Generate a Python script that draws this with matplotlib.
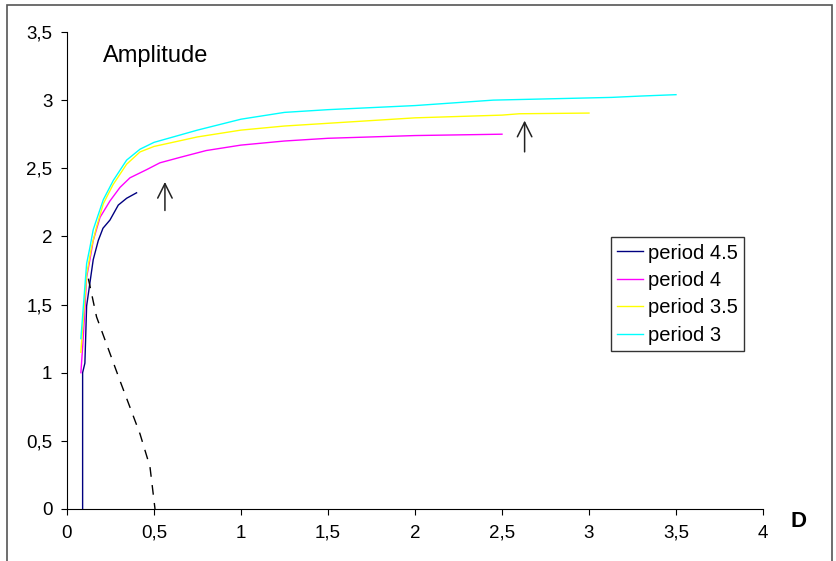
import matplotlib
matplotlib.use("Agg")
import matplotlib.pyplot as plt
from matplotlib.patches import Rectangle

plt.rcParams['font.family'] = ['Liberation Sans', 'DejaVu Sans']

# period 4.5
d_45 = [0.09, 0.09, 0.103, 0.113, 0.132, 0.151, 0.18, 0.207, 0.247, 0.295, 0.343, 0.40]
a_45 = [0.0, 1.0, 1.07, 1.49, 1.66, 1.83, 1.97, 2.06, 2.12, 2.23, 2.28, 2.32]

# period 4
d_4 = [0.08, 0.094, 0.113, 0.132, 0.151, 0.19, 0.247, 0.305, 0.362, 0.458, 0.534, 0.65,
       0.8, 1.0, 1.25, 1.5, 2.0, 2.5]
a_4 = [1.0, 1.26, 1.70, 1.83, 1.97, 2.14, 2.26, 2.36, 2.43, 2.49, 2.54, 2.58,
       2.63, 2.67, 2.70, 2.72, 2.74, 2.75]

# period 3.5
d_35 = [0.08, 0.113, 0.141, 0.17, 0.209, 0.265, 0.343, 0.42, 0.5, 0.75, 1.0, 1.25,
        1.5, 2.0, 2.5, 2.6, 3.0]
a_35 = [1.15, 1.72, 1.92, 2.07, 2.24, 2.38, 2.53, 2.62, 2.66, 2.73, 2.78, 2.81,
        2.83, 2.87, 2.89, 2.90, 2.905]

# period 3
d_3 = [0.08, 0.113, 0.132, 0.151, 0.209, 0.266, 0.343, 0.42, 0.5, 0.75, 1.0, 1.25,
       1.5, 2.0, 2.45, 3.13, 3.3, 3.5]
a_3 = [1.25, 1.80, 1.92, 2.05, 2.27, 2.41, 2.56, 2.64, 2.69, 2.78, 2.86, 2.91,
       2.93, 2.96, 3.0, 3.02, 3.03, 3.04]

# dashed boundary
d_dash = [0.123, 0.17, 0.305, 0.42, 0.477, 0.506]
a_dash = [1.69, 1.41, 0.94, 0.55, 0.31, 0.0]

# arrows (x, y_from, y_to)
arrows = [(0.563, 2.17, 2.42), (2.63, 2.6, 2.87)]

x_ticks = [0, 0.5, 1, 1.5, 2, 2.5, 3, 3.5, 4]
y_ticks = [0, 0.5, 1, 1.5, 2, 2.5, 3, 3.5]

fig = plt.figure(figsize=(8.37, 5.61), dpi=100)
ax = fig.add_axes([0.080, 0.0927, 0.8316, 0.8503])

ax.plot(d_45, a_45, color='#000080', lw=1, label='period 4.5')
ax.plot(d_4, a_4, color='#FF00FF', lw=1, label='period 4')
ax.plot(d_35, a_35, color='#FFFF00', lw=1, label='period 3.5')
ax.plot(d_3, a_3, color='#00FFFF', lw=1, label='period 3')
ax.plot(d_dash, a_dash, color='black', lw=1, dashes=(7, 6))

for x, y0, y1 in arrows:
    ax.annotate('', xy=(x, y1), xytext=(x, y0),
                arrowprops=dict(arrowstyle='->', color='#222222', lw=1.1,
                                mutation_scale=26))

ax.set_xlim(0, 4)
ax.set_ylim(0, 3.5)
ax.set_xticks(x_ticks)
ax.set_yticks(y_ticks)
ax.set_xticklabels([('%g' % v).replace('.', ',') for v in x_ticks])
ax.set_yticklabels([('%g' % v).replace('.', ',') for v in y_ticks])
ax.tick_params(direction='out', length=4.5, labelsize=13.5)
ax.tick_params(axis='x', pad=7)
ax.tick_params(axis='y', pad=6)
for s in ['top', 'right']:
    ax.spines[s].set_visible(False)

ax.text(0.205, 3.28, 'Amplitude', fontsize=17)
ax.text(4.16, -0.13, 'D', fontsize=16, fontweight='bold')

leg = ax.legend(loc='upper left', bbox_to_anchor=(0.7816, 0.570), fontsize=14.5,
                frameon=True, fancybox=False, handlelength=1.25,
                borderpad=0.32, labelspacing=0.42, handletextpad=0.25,
                borderaxespad=0)
leg.get_frame().set_edgecolor('black')
leg.get_frame().set_linewidth(1)

fig.patches.append(Rectangle((7 / 837, -0.05), 825 / 837, 1 - 5 / 561 + 0.05,
                             transform=fig.transFigure, fill=False,
                             edgecolor='#555555', lw=1.2))

fig.savefig('out.png', dpi=100)
